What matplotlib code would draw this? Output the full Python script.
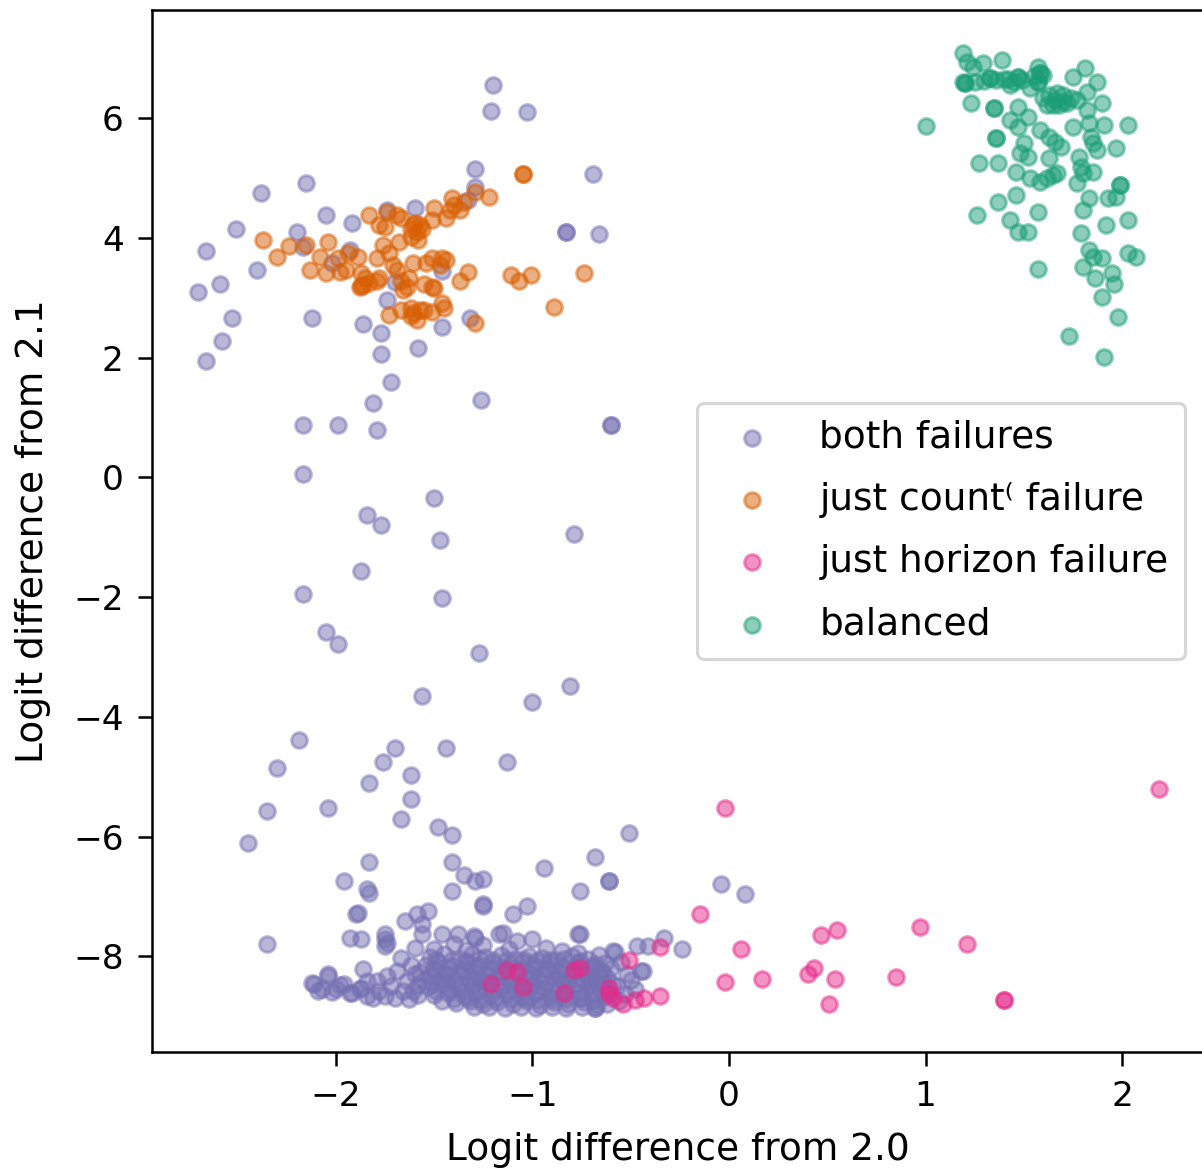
#!/usr/bin/env python3
# -*- coding: utf-8 -*-
"""
Scatter of logit differences: which prompts fail on count / horizon.
Output: out.png
"""

import numpy as np
import matplotlib
matplotlib.use("Agg")
import matplotlib.pyplot as plt

# ---- data (x = logit diff from 2.0, y = logit diff from 2.1) ----
both_top = [
    (-1.20, 6.56), (-1.21, 6.12), (-1.03, 6.10), (-0.69, 5.07), (-1.29, 5.15),
    (-2.15, 4.92), (-2.38, 4.75), (-2.05, 4.38), (-2.51, 4.15), (-2.20, 4.10),
    (-1.92, 4.25), (-2.66, 3.78), (-2.70, 3.10), (-2.59, 3.24), (-2.40, 3.46),
    (-2.53, 2.66), (-2.58, 2.28), (-2.66, 1.95), (-2.12, 2.66), (-1.86, 2.56),
    (-1.77, 2.42), (-1.77, 2.07), (-1.58, 2.16), (-1.46, 2.51), (-1.32, 2.66),
    (-0.83, 4.10), (-0.83, 4.10), (-0.66, 4.06), (-1.74, 2.96), (-1.46, 3.45),
    (-1.93, 3.80), (-2.17, 3.85), (-1.60, 4.50), (-1.74, 4.47), (-1.70, 3.26),
    (-2.02, 3.58), (-1.33, 4.63), (-1.29, 4.85),
]
both_mid = [
    (-1.72, 1.59), (-1.81, 1.24), (-1.26, 1.29), (-2.17, 0.88), (-1.99, 0.88),
    (-1.79, 0.79), (-0.60, 0.88), (-0.60, 0.88), (-2.17, 0.06),
    (-1.50, -0.35), (-1.84, -0.62), (-1.77, -0.80), (-1.47, -1.04), (-0.79, -0.94),
    (-1.87, -1.57), (-2.17, -1.94), (-1.46, -2.02), (-2.05, -2.58), (-1.99, -2.79),
    (-1.27, -2.93), (-1.56, -3.66), (-1.00, -3.76), (-0.81, -3.48), (-2.19, -4.38),
    (-2.30, -4.85), (-1.70, -4.52), (-1.76, -4.75), (-1.44, -4.52), (-1.13, -4.75),
    (-1.62, -4.97), (-1.83, -5.11), (-1.62, -5.37), (-2.35, -5.57), (-2.04, -5.52),
    (-1.67, -5.70), (-1.48, -5.84), (-1.41, -5.97), (-2.45, -6.10), (-0.51, -5.94),
    (-1.83, -6.42), (-1.41, -6.42), (-0.94, -6.52), (-0.68, -6.34), (-1.35, -6.64),
    (-1.29, -6.74), (-1.25, -6.71), (-1.96, -6.74), (-1.84, -6.87), (-1.83, -6.94),
    (-1.41, -6.91), (-0.76, -6.91), (-0.61, -6.74), (-0.61, -6.74), (-0.04, -6.79),
    (0.08, -6.96), (-1.25, -7.12),
]
both_low_edge = [
    (-1.93, -7.69), (-1.87, -7.71), (-1.89, -7.27), (-1.75, -7.63), (-1.74, -7.78),
    (-1.75, -7.71), (-1.75, -7.83), (-1.65, -7.41), (-1.59, -7.29), (-1.53, -7.24),
    (-1.56, -7.46), (-1.60, -7.86), (-1.56, -7.63), (-1.25, -7.16), (-1.10, -7.29),
    (-1.03, -7.16), (-1.29, -7.69), (-1.15, -7.61), (-1.00, -7.71), (-0.76, -7.63),
    (-0.77, -7.94), (-0.59, -7.91), (-1.90, -7.29), (-2.35, -7.79),
    (-1.46, -7.63), (-1.38, -7.63), (-1.30, -7.66), (-1.17, -7.63), (-1.08, -7.74),
    (-0.93, -7.86), (-0.77, -7.63), (-1.40, -7.80), (-1.25, -7.82), (-1.12, -7.88),
    (-1.50, -7.88), (-1.34, -7.90), (-0.85, -7.92),
]
both_left = [
    (-1.86, -8.21), (-1.84, -8.41), (-1.79, -8.41), (-1.78, -8.58), (-1.69, -8.24),
    (-1.67, -8.03), (-1.64, -8.41), (-1.61, -8.58), (-1.66, -8.58), (-1.72, -8.50),
    (-1.75, -8.66), (-1.70, -8.70), (-1.63, -8.72), (-1.60, -8.30), (-1.62, -8.15),
    (-1.58, -8.48), (-1.58, -8.65), (-1.81, -8.70), (-1.88, -8.55), (-1.92, -8.62),
    (-1.74, -8.33), (-2.11, -8.46), (-2.07, -8.55), (-2.04, -8.33), (-2.02, -8.60),
    (-1.98, -8.48), (-1.93, -8.61), (-1.87, -8.53), (-1.84, -8.66), (-2.12, -8.44),
    (-2.04, -8.29), (-1.96, -8.46), (-2.09, -8.58), (-2.00, -8.55),
]
both_core = [
    (-1.52, -8.02), (-1.45, -7.97), (-1.37, -8.04), (-1.31, -7.96), (-1.24, -8.01),
    (-1.16, -7.98), (-1.09, -8.05), (-1.02, -7.99), (-0.95, -8.03), (-0.88, -8.06),
    (-0.80, -8.00), (-0.72, -8.04), (-0.66, -7.98),
    (-1.54, -8.14), (-1.48, -8.10), (-1.41, -8.16), (-1.33, -8.11), (-1.27, -8.15),
    (-1.20, -8.12), (-1.12, -8.17), (-1.05, -8.10), (-0.99, -8.15), (-0.91, -8.13),
    (-0.84, -8.18), (-0.77, -8.11), (-0.69, -8.16), (-0.63, -8.12),
    (-1.57, -8.27), (-1.50, -8.23), (-1.44, -8.29), (-1.36, -8.24), (-1.29, -8.28),
    (-1.22, -8.22), (-1.15, -8.27), (-1.07, -8.25), (-1.00, -8.30), (-0.93, -8.23),
    (-0.86, -8.28), (-0.79, -8.26), (-0.71, -8.30), (-0.65, -8.24),
    (-1.55, -8.40), (-1.47, -8.36), (-1.40, -8.41), (-1.33, -8.37), (-1.26, -8.39),
    (-1.18, -8.35), (-1.11, -8.42), (-1.03, -8.37), (-0.96, -8.40), (-0.89, -8.36),
    (-0.82, -8.41), (-0.74, -8.38), (-0.67, -8.43), (-0.62, -8.36),
    (-1.53, -8.52), (-1.46, -8.48), (-1.38, -8.53), (-1.31, -8.49), (-1.24, -8.54),
    (-1.16, -8.50), (-1.09, -8.55), (-1.01, -8.49), (-0.94, -8.53), (-0.87, -8.48),
    (-0.80, -8.54), (-0.72, -8.50), (-0.65, -8.56),
    (-1.50, -8.64), (-1.43, -8.61), (-1.35, -8.66), (-1.28, -8.62), (-1.21, -8.67),
    (-1.13, -8.63), (-1.06, -8.68), (-0.98, -8.62), (-0.91, -8.66), (-0.84, -8.64),
    (-0.76, -8.69), (-0.69, -8.63), (-0.63, -8.67),
    (-1.46, -8.74), (-1.39, -8.78), (-1.32, -8.75), (-1.25, -8.80), (-1.18, -8.76),
    (-1.10, -8.79), (-1.03, -8.74), (-0.96, -8.81), (-0.89, -8.77), (-0.82, -8.80),
    (-0.74, -8.76), (-0.67, -8.82),
    (-1.30, -8.85), (-1.22, -8.84), (-1.14, -8.87), (-1.06, -8.85), (-0.98, -8.86),
    (-0.90, -8.84), (-0.83, -8.87), (-0.75, -8.85), (-0.68, -8.86),
]
both_core_fill = [
    (-1.49, -8.07), (-1.41, -8.06), (-1.34, -8.08), (-1.27, -8.05), (-1.20, -8.07),
    (-1.13, -8.06), (-1.05, -8.04), (-0.98, -8.08), (-0.91, -8.07), (-0.84, -8.05),
    (-0.76, -8.08),
    (-1.50, -8.20), (-1.43, -8.19), (-1.35, -8.21), (-1.28, -8.18), (-1.21, -8.20),
    (-1.14, -8.19), (-1.06, -8.21), (-0.99, -8.18), (-0.92, -8.20), (-0.85, -8.22),
    (-0.78, -8.19), (-0.70, -8.21),
    (-1.52, -8.33), (-1.44, -8.32), (-1.37, -8.31), (-1.30, -8.34), (-1.23, -8.32),
    (-1.16, -8.33), (-1.08, -8.31), (-1.01, -8.34), (-0.94, -8.32), (-0.87, -8.33),
    (-0.80, -8.31), (-0.72, -8.34), (-0.66, -8.31),
    (-1.51, -8.46), (-1.44, -8.44), (-1.37, -8.46), (-1.29, -8.45), (-1.22, -8.43),
    (-1.15, -8.46), (-1.07, -8.44), (-1.00, -8.46), (-0.93, -8.45), (-0.85, -8.43),
    (-0.78, -8.46), (-0.71, -8.44), (-0.64, -8.46),
    (-1.49, -8.58), (-1.42, -8.57), (-1.35, -8.59), (-1.27, -8.56), (-1.20, -8.58),
    (-1.12, -8.57), (-1.05, -8.60), (-0.97, -8.57), (-0.90, -8.58), (-0.83, -8.56),
    (-0.76, -8.59), (-0.69, -8.57), (-0.62, -8.58),
    (-1.40, -8.71), (-1.33, -8.70), (-1.26, -8.73), (-1.19, -8.71), (-1.11, -8.72),
    (-1.04, -8.70), (-0.97, -8.73), (-0.90, -8.71), (-0.83, -8.72), (-0.75, -8.70),
    (-0.69, -8.73),
]
both_right = [
    (-0.68, -8.13), (-0.59, -8.46), (-0.53, -8.63), (-0.44, -8.24), (-0.68, -8.86),
    (-0.64, -8.28), (-0.58, -7.93), (-0.47, -7.83), (-0.41, -7.83), (-0.33, -7.69),
    (-0.24, -7.88), (-0.45, -8.24), (-0.55, -8.10), (-0.50, -8.40), (-0.56, -8.75),
    (-0.61, -8.60), (-0.48, -8.55), (-0.52, -8.30), (-0.60, -8.20), (-0.62, -8.80),
    (-0.57, -8.50),
]

count_pts = [
    (-1.05, 5.07), (-1.05, 5.07), (-1.22, 4.68), (-1.29, 4.77), (-1.41, 4.67),
    (-1.37, 4.47), (-1.42, 4.47), (-1.44, 4.33), (-1.50, 4.50), (-1.51, 4.30),
    (-1.57, 4.21), (-1.61, 4.21), (-1.59, 4.10), (-1.69, 4.38), (-1.67, 4.33),
    (-1.74, 4.43), (-1.83, 4.38), (-1.78, 4.21), (-1.75, 4.18), (-1.62, 4.01),
    (-1.58, 3.96), (-1.68, 3.93), (-1.76, 3.88), (-1.73, 3.75), (-1.79, 3.66),
    (-1.71, 3.55), (-1.69, 3.46), (-1.63, 3.34), (-1.61, 3.58), (-1.54, 3.58),
    (-1.51, 3.66), (-1.46, 3.66), (-1.44, 3.63), (-1.47, 3.55), (-2.37, 3.96),
    (-2.24, 3.86), (-2.30, 3.68), (-2.15, 3.88), (-2.08, 3.68), (-2.04, 3.93),
    (-1.99, 3.66), (-1.94, 3.75), (-1.89, 3.68), (-2.13, 3.46), (-2.05, 3.41),
    (-1.98, 3.43), (-1.95, 3.46), (-1.87, 3.41), (-1.85, 3.34), (-1.86, 3.21),
    (-1.88, 3.18), (-1.78, 3.34), (-1.79, 3.29), (-1.67, 3.29), (-1.64, 3.18),
    (-1.66, 3.13), (-1.55, 3.24), (-1.51, 3.18), (-1.50, 3.16), (-1.55, 2.79),
    (-1.46, 2.91), (-1.45, 2.83), (-1.73, 2.71), (-1.62, 2.83), (-1.61, 2.74),
    (-1.59, 2.63), (-1.51, 2.76), (-1.67, 2.79), (-1.37, 3.29), (-1.33, 3.43),
    (-1.29, 2.58), (-1.11, 3.38), (-1.07, 3.29), (-1.01, 3.38), (-0.74, 3.41),
    (-0.89, 2.84), (-1.62, 4.15), (-1.60, 4.25), (-1.56, 4.15), (-1.40, 4.55),
    (-1.35, 4.60), (-1.87, 3.20), (-1.83, 3.25), (-1.62, 2.70), (-1.57, 2.80),
]

horizon_pts = [
    (-1.21, -8.46), (-1.13, -8.23), (-1.08, -8.27), (-1.05, -8.52), (-0.84, -8.61),
    (-0.79, -8.23), (-0.76, -8.19), (-0.61, -8.53), (-0.61, -8.63), (-0.59, -8.70),
    (-0.54, -8.80), (-0.51, -8.06), (-0.48, -8.73), (-0.43, -8.70), (-0.35, -8.66),
    (-0.35, -7.84), (-0.15, -7.29), (-0.02, -5.53), (-0.02, -8.43), (0.06, -7.88),
    (0.17, -8.38), (0.40, -8.29), (0.43, -8.19), (0.47, -7.64), (0.51, -8.80),
    (0.54, -8.38), (0.55, -7.56), (0.85, -8.34), (0.97, -7.51), (1.21, -7.79),
    (1.40, -8.73), (1.40, -8.73), (2.19, -5.20),
]

balanced_pts = [
    (1.19, 7.09), (1.21, 6.94), (1.24, 6.86), (1.29, 6.92), (1.39, 6.97),
    (1.20, 6.59), (1.20, 6.59), (1.33, 6.67), (1.33, 6.67), (1.36, 6.64),
    (1.47, 6.69), (1.47, 6.69), (1.49, 6.64), (1.43, 6.56), (1.57, 6.86),
    (1.58, 6.76), (1.58, 6.76), (1.57, 6.61), (1.57, 6.61), (1.53, 6.51),
    (1.75, 6.69), (1.81, 6.84), (1.87, 6.61), (1.82, 6.44), (1.23, 6.25),
    (1.35, 6.17), (1.35, 6.17), (1.47, 6.19), (1.60, 6.34), (1.63, 6.39),
    (1.67, 6.42), (1.70, 6.39), (1.74, 6.34), (1.77, 6.30), (1.62, 6.22),
    (1.65, 6.22), (1.68, 6.22), (1.72, 6.25), (1.90, 6.25), (1.82, 6.14),
    (1.43, 5.97), (1.52, 6.02), (1.47, 5.85), (1.58, 5.80), (1.63, 5.69),
    (1.66, 5.60), (1.75, 5.85), (1.83, 5.92), (1.91, 5.89), (2.03, 5.89),
    (1.36, 5.67), (1.36, 5.67), (1.50, 5.58), (1.84, 5.69), (1.85, 5.58),
    (1.48, 5.42), (1.52, 5.35), (1.63, 5.33), (1.69, 5.52), (1.78, 5.35),
    (1.87, 5.47), (1.97, 5.50), (1.27, 5.25), (1.37, 5.25), (1.46, 5.10),
    (1.53, 5.00), (1.58, 4.93), (1.62, 5.00), (1.65, 5.05), (1.67, 5.08),
    (1.77, 4.92), (1.79, 5.18), (1.80, 5.08), (1.85, 5.10), (1.99, 4.88),
    (1.99, 4.88), (1.93, 4.67), (1.97, 4.68), (1.83, 4.67), (1.80, 4.47),
    (1.37, 4.60), (1.46, 4.72), (1.57, 4.43), (1.26, 4.38), (1.43, 4.30),
    (1.47, 4.10), (1.52, 4.10), (2.03, 4.30), (1.92, 4.21), (1.79, 4.08),
    (1.83, 3.80), (1.85, 3.68), (1.80, 3.51), (1.90, 3.66), (1.86, 3.34),
    (1.95, 3.41), (1.96, 3.24), (2.03, 3.75), (2.07, 3.68), (1.57, 3.49),
    (1.90, 3.01), (1.98, 2.68), (1.73, 2.37), (1.91, 2.02), (1.00, 5.87),
    (1.25, 6.60), (1.30, 6.62), (1.42, 6.65), (1.55, 6.70), (1.45, 6.60),
    (1.19, 6.60), (1.40, 6.66), (1.60, 6.72), (1.66, 6.30), (1.70, 6.28),
]

labels = ["both failures", "just count\u207d failure", "just horizon failure", "balanced"]
colors = ["#7570b3", "#d95f02", "#e7298a", "#1b9e77"]  # Dark2

x_limits = (-2.936, 2.417)
y_limits = (-9.6, 7.81)
y_ticks = [-8, -6, -4, -2, 0, 2, 4, 6]
x_ticks = [-2, -1, 0, 1, 2]


def main():
    both = (both_top + both_mid + both_low_edge + both_left
            + both_core + both_core_fill + both_right)
    groups = [both, count_pts, horizon_pts, balanced_pts]

    fig = plt.figure(figsize=(1202 / 225, 1170 / 225), dpi=225)
    # axes reach a little past the right edge, like the cropped original
    ax = fig.add_axes([152 / 1202, 118 / 1170, 1052 / 1202, 1042 / 1170])

    for pts, label, color in zip(groups, labels, colors):
        arr = np.array(pts)
        ax.scatter(arr[:, 0], arr[:, 1], s=25, color=color, alpha=0.5, label=label)

    ax.set_xlim(*x_limits)
    ax.set_ylim(*y_limits)
    ax.set_xticks(x_ticks)
    ax.set_yticks(y_ticks)
    ax.tick_params(labelsize=11, length=4.5, pad=4.5)
    ax.set_xlabel("Logit difference from 2.0", fontsize=12, labelpad=6)
    ax.set_ylabel("Logit difference from 2.1", fontsize=12, labelpad=7)
    ax.legend(loc="center right", fontsize=12, labelspacing=0.7, borderpad=0.45)

    fig.savefig("out.png", dpi=225)
    plt.close(fig)


if __name__ == "__main__":
    main()
